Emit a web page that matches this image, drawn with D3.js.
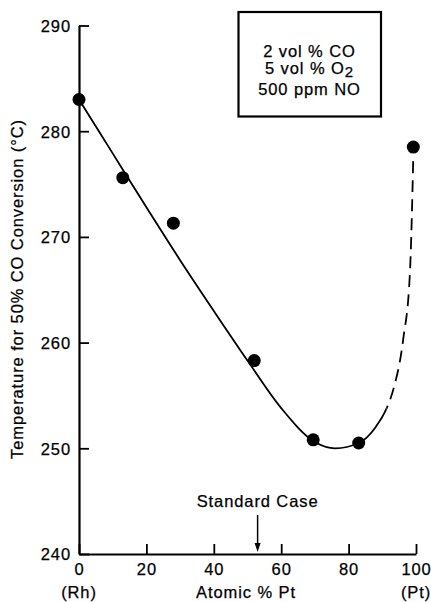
<!DOCTYPE html>
<html>
<head>
<meta charset="utf-8">
<script src="https://cdn.jsdelivr.net/npm/d3@7"></script>
<style>
  html, body { margin: 0; padding: 0; background: #fff; }
  svg { display: block; }
  text { font-family: "Liberation Sans", Arial, Helvetica, sans-serif; fill: #000; stroke: #000; stroke-width: 0.25px; }
</style>
</head>
<body>
<svg id="chart" width="431" height="602"></svg>
<script>
// ---- data ----
const pctPt = [0, 13, 28, 52, 69.5, 83, 99.2];
const tempC = [283, 275.6, 271.3, 258.3, 250.8, 250.5, 278.5];

// fitted curve
const fitX = [0, 10, 20, 30, 40, 50, 60, 70, 76, 83, 88, 91.3, 93.3, 96.2, 98.2, 99.2];
const fitY = [283, 277.9, 272.8, 267.8, 263.0, 258.3, 253.8, 250.6, 250.0, 250.5, 252.0, 253.8, 255.6, 260.3, 266.6, 277.6];
const dashFrom = 91.3; // curve is dashed beyond this % Pt

const xTicks = [0, 20, 40, 60, 80, 100];
const yTicks = [240, 250, 260, 270, 280, 290];
const legendLines = ["2 vol % CO", "5 vol % O", "500 ppm NO"];
const standardCase = 53;

// ---- layout ----
const svg = d3.select("#chart");
const mLeft = 79, mRight = 416, mTop = 25.5, mBottom = 554;
const x = d3.scaleLinear().domain([0, 100]).range([mLeft, mRight]);
const y = d3.scaleLinear().domain([240, 290]).range([mBottom, mTop]);
const FS = 16.5, LS = 0.9;

// axes
const yAxis = d3.axisLeft(y).tickValues(yTicks).tickSizeInner(-10).tickSizeOuter(0).tickPadding(8);
const xAxis = d3.axisBottom(x).tickValues(xTicks).tickSizeInner(-10).tickSizeOuter(0).tickPadding(9);

const gy = svg.append("g").attr("transform", `translate(${mLeft},0)`).call(yAxis);
const gx = svg.append("g").attr("transform", `translate(0,${mBottom})`).call(xAxis);
[gy, gx].forEach(g => {
  g.select(".domain").attr("stroke", "#000").attr("stroke-width", 2.2);
  g.selectAll(".tick line").attr("stroke", "#000").attr("stroke-width", 1.8);
  g.selectAll(".tick text").attr("font-family", "Liberation Sans, Arial, sans-serif")
    .attr("font-size", FS).style("letter-spacing", LS + "px").attr("fill", "#000");
});
gy.selectAll(".tick text").attr("dy", "0.36em");

// x axis extra labels
svg.append("text").attr("x", x(0)).attr("y", 598).attr("text-anchor", "middle")
  .attr("font-size", FS).style("letter-spacing", LS + "px").text("(Rh)");
svg.append("text").attr("x", x(100)).attr("y", 598).attr("text-anchor", "middle")
  .attr("font-size", FS).style("letter-spacing", LS + "px").text("(Pt)");
svg.append("text").attr("x", 246).attr("y", 598).attr("text-anchor", "middle")
  .attr("font-size", FS).style("letter-spacing", LS + "px").text("Atomic % Pt");

// y axis label
svg.append("text").attr("transform", "translate(23,289) rotate(-90)")
  .attr("text-anchor", "middle").attr("font-size", FS).style("letter-spacing", LS + "px")
  .text("Temperature for 50% CO Conversion (°C)");

// clip regions for solid / dashed parts
const defs = svg.append("defs");
defs.append("clipPath").attr("id", "clipSolid").append("rect")
  .attr("x", 0).attr("y", 0).attr("width", x(dashFrom)).attr("height", 602);
defs.append("clipPath").attr("id", "clipDash").append("rect")
  .attr("x", x(dashFrom)).attr("y", 0).attr("width", 431 - x(dashFrom)).attr("height", 602);

// fit curve
const fitData = fitX.map((v, i) => [v, fitY[i]]);
const line = d3.line().x(d => x(d[0])).y(d => y(d[1])).curve(d3.curveMonotoneX);
svg.append("path").datum(fitData).attr("clip-path", "url(#clipSolid)")
  .attr("d", line).attr("fill", "none").attr("stroke", "#000").attr("stroke-width", 1.8);
svg.append("path").datum(fitData.filter(d => d[0] >= 83)).attr("clip-path", "url(#clipDash)")
  .attr("d", d3.line().x(d => x(d[0])).y(d => y(d[1])).curve(d3.curveMonotoneX))
  .attr("fill", "none").attr("stroke", "#000").attr("stroke-width", 1.8)
  .attr("stroke-dasharray", "12,7").attr("stroke-dashoffset", 2);

// data points
svg.append("g").selectAll("circle").data(pctPt.map((v, i) => [v, tempC[i]]))
  .join("circle").attr("cx", d => x(d[0])).attr("cy", d => y(d[1])).attr("r", 6.5).attr("fill", "#000");

// legend box
svg.append("rect").attr("x", 238.5).attr("y", 12).attr("width", 142.5).attr("height", 104.5)
  .attr("fill", "none").attr("stroke", "#000").attr("stroke-width", 2.2);
const lx = 309.5;
svg.append("text").attr("x", lx).attr("y", 56.5).attr("text-anchor", "middle")
  .attr("font-size", FS).style("letter-spacing", LS + "px").text(legendLines[0]);
const t2 = svg.append("text").attr("x", lx).attr("y", 74).attr("text-anchor", "middle")
  .attr("font-size", FS).style("letter-spacing", LS + "px");
t2.append("tspan").text(legendLines[1]);
t2.append("tspan").attr("dy", 3).attr("font-size", 15).text("2");
svg.append("text").attr("x", lx).attr("y", 94.5).attr("text-anchor", "middle")
  .attr("font-size", FS).style("letter-spacing", LS + "px").text(legendLines[2]);

// standard case annotation
const sx = x(standardCase);
svg.append("text").attr("x", sx).attr("y", 507).attr("text-anchor", "middle")
  .attr("font-size", FS).style("letter-spacing", LS + "px").text("Standard Case");
svg.append("line").attr("x1", sx).attr("x2", sx).attr("y1", 515).attr("y2", 546)
  .attr("stroke", "#000").attr("stroke-width", 1.5);
svg.append("path").attr("d", `M${sx - 3},${543} L${sx + 3},${543} L${sx},${552} Z`).attr("fill", "#000");
</script>
</body>
</html>
